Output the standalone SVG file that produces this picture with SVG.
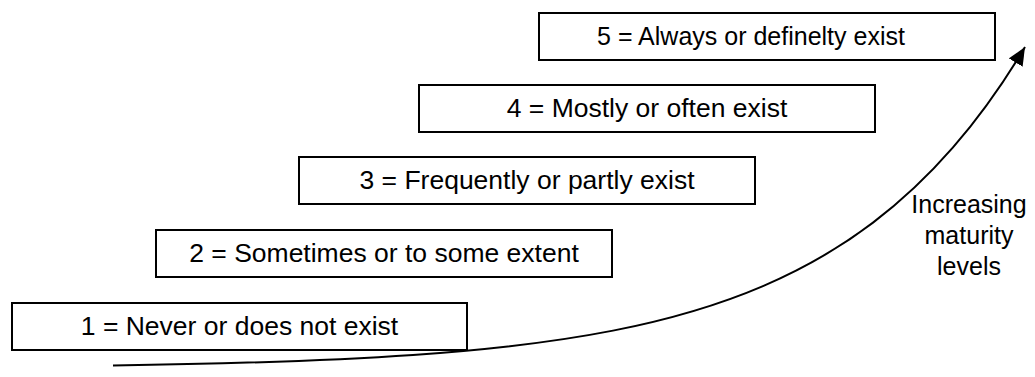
<svg xmlns="http://www.w3.org/2000/svg" width="1035" height="377" viewBox="0 0 1035 377">
  <style>
    .box rect { fill: #ffffff; stroke: #000000; stroke-width: 2; }
    .lbl { font-family: "Liberation Sans", Arial, sans-serif; font-size: 26.5px; fill: #000000; text-anchor: middle; }
    .small { font-size: 25px; }
    .curve { fill: none; stroke: #000000; stroke-width: 2; }
  </style>
  <defs>
    <marker id="head" markerUnits="userSpaceOnUse" markerWidth="20" markerHeight="16" refX="18" refY="8" orient="auto">
      <path d="M0,0 L18,8 L0,16 Z" fill="#000000"/>
    </marker>
  </defs>
  <rect width="1035" height="377" fill="#ffffff"/>

  <g id="level1" class="box">
    <rect x="12" y="303" width="455" height="47"/>
    <text class="lbl" x="239.5" y="334.5">1 = Never or does not exist</text>
  </g>
  <g id="level2" class="box">
    <rect x="156" y="230" width="456" height="47"/>
    <text class="lbl" x="384" y="261.5">2 = Sometimes or to some extent</text>
  </g>
  <g id="level3" class="box">
    <rect x="299" y="157" width="456" height="47"/>
    <text class="lbl" x="527" y="189">3 = Frequently or partly exist</text>
  </g>
  <g id="level4" class="box">
    <rect x="419" y="85" width="456" height="47"/>
    <text class="lbl" x="647" y="117">4 = Mostly or often exist</text>
  </g>
  <g id="level5" class="box">
    <rect x="539" y="13" width="456" height="47"/>
    <text class="lbl small" x="751" y="45">5 = Always or definelty exist</text>
  </g>

  <!-- exponential-style growth curve, built from Hermite segments -->
  <g id="connectors">
    <path class="curve" marker-end="url(#head)"
      d="M113,365.5 C213,364.04 313,361.9 413,354.97 C479.7,350.35 546.3,343.68 613,330.61 C663,320.81 713,307.45 763,286.07 C799.7,270.39 836.3,250.38 873,222.6 C899.7,202.4 926.3,178.03 953,147.4 C977,119.84 1001,87.18 1025,47.1"/>
  </g>

  <g id="axis-label">
    <text class="lbl small" x="969" y="213">Increasing</text>
    <text class="lbl small" x="969" y="244">maturity</text>
    <text class="lbl small" x="969" y="275">levels</text>
  </g>
</svg>
